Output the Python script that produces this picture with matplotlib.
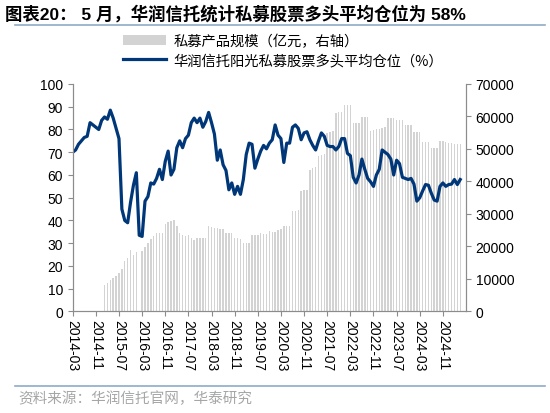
import numpy as np
import matplotlib
matplotlib.use("Agg")
import matplotlib.pyplot as plt
from matplotlib.patches import Patch
from matplotlib.lines import Line2D

plt.rcParams['font.family'] = ['Liberation Sans', 'Noto Sans CJK SC', 'DejaVu Sans']

# ---- data ----
start_year, start_month = 2014, 3
position = [70, 71, 73.5, 75, 76.5, 77, 83, 82, 81, 80,
            84, 85.5, 84.5, 88.5, 85, 80.5, 76, 45, 40, 39,
            48, 55.5, 61, 33.5, 33, 48.5, 50.5, 56.5, 56, 58.5,
            62.5, 58, 66, 70.5, 60, 62.5, 72, 75, 72, 76,
            77.5, 83, 85, 83, 85, 81, 83.5, 87.5, 83, 78,
            66.5, 71, 64.5, 62, 53.5, 56.5, 51.5, 55, 51.5, 58,
            69, 74, 73.5, 63, 67, 70.5, 73, 71.5, 74, 75.5,
            82, 77.5, 76, 65.5, 74, 74, 81, 82, 80.5, 75.5,
            78.5, 79, 75.5, 73, 71, 75, 78.5, 77, 73, 72.5,
            72.5, 71, 72.5, 76, 76, 69.5, 68.5, 59, 56.5, 60,
            67, 62.5, 58.5, 57, 55, 60, 62.5, 71, 70, 69,
            67, 60, 66.5, 65, 59, 58.5, 58, 58.5, 56, 48.5,
            50, 53, 55.8, 55.5, 52, 49, 48.5, 55, 56.5, 55,
            55.8, 56, 58, 55.8, 58]
nan = np.nan
scale = [nan] * 11 + [
    8200, 8800, 9600, 10300, 11000, 11800, 13000, 15500, 16500,
    19000, 17500, 18200, nan, 18700, 19800, 21000, 22300, 23200, 24000,
    24300, 24300, 26800, 27500, 27800, 28000, 26300, 24200, 23600, 23100,
    23500, 22600, 22100, 22600, 22600, 22600, 22700, 26200, 26000, 25800,
    25600, 25400, 25300, 24200, 24100, 24100, 22600, 22600, 22400, 21100,
    21100, 21100, 23500, 23400, 23400, 24000, 23800, 23700, 24700, 24600,
    24600, 25200, 25400, 26200, 26250, 26300, 30800, 31000, 31200, 37000,
    37300, 37500, 43600, 44000, 44500, 47900, 48200, 48500, 54800, 55200,
    55600, 61000, 61300, 61500, 63500, 63500, 63500, 57900, 57900, 57900,
    59800, 59800, 59800, 55600, 55800, 56100, 56300, 56600, 56700, 59400,
    59400, 59400, 58900, 58900, 58900, 57400, 57400, 57400, 55100, 55100,
    55100, 52000, 52000, 52000, 50200, 50200, 50200, 52600, 52400, 52200,
    51900, 51800, 51600, 51500, 51600]

n = len(position)
months = []
for i in range(n):
    y = start_year + (start_month - 1 + i) // 12
    m = (start_month - 1 + i) % 12 + 1
    months.append(f"{y}-{m:02d}")
tick_idx = list(range(0, n, 8))
tick_labels = [months[i] for i in tick_idx]

title = "图表20： 5 月，华润信托统计私募股票多头平均仓位为 58%"
bar_label = "私募产品规模（亿元，右轴）"
line_label = "华润信托阳光私募股票多头平均仓位（%）"
source = "资料来源：华润信托官网，华泰研究"

# ---- figure ----
fig = plt.figure(figsize=(5.5, 4.14), dpi=100)
ax = fig.add_axes([0.1322, 0.2452, 0.7151, 0.5495])
ax2 = ax.twinx()

x = np.arange(n)
ax2.bar(x, scale, width=0.5, color='#D3D3D3', edgecolor='none')
ax.plot(x, position, color='#003778', lw=2.3, solid_joinstyle='round')

ax.set_zorder(ax2.get_zorder() + 1)
ax.patch.set_visible(False)

ax.set_xlim(0, 136)
ax.set_ylim(0, 100)
ax2.set_ylim(0, 70000)
ax.set_yticks(range(0, 101, 10))
ax2.set_yticks(range(0, 70001, 10000))
ax.set_xticks(tick_idx)
ax.set_xticklabels(tick_labels, rotation=-90, fontsize=10)

spine_c = '#8C8C8C'
for a in (ax, ax2):
    a.spines['top'].set_visible(False)
    for s in ('left', 'right', 'bottom'):
        a.spines[s].set_color(spine_c)
        a.spines[s].set_linewidth(0.8)
    a.tick_params(colors=spine_c, labelcolor='#000000', labelsize=10, length=3.5, width=0.8)
ax.tick_params(axis='x', pad=2)

# legend
handles = [Patch(facecolor='#D3D3D3', edgecolor='none'),
           Line2D([0], [0], color='#003778', lw=2.3)]
fig.legend(handles, [bar_label, line_label], loc='center', bbox_to_anchor=(0.515, 0.875),
           frameon=False, handlelength=3.0, handletextpad=0.5,
           labelspacing=0.35, prop={'family': ['Noto Sans CJK SC'], 'size': 10.3})

# title, rules, source
fig.text(0.009, 1 - 14 / 414, title, fontsize=12.5, fontweight='bold', va='center', ha='left',
         family=['Liberation Sans', 'Noto Sans CJK SC'])
fig.add_artist(Line2D([15 / 550, 545 / 550], [1 - 26 / 414, 1 - 26 / 414], color='#8FAAC8', lw=1.2))
fig.add_artist(Line2D([15 / 550, 545 / 550], [1 - 387 / 414, 1 - 387 / 414], color='#8FAAC8', lw=1.2))
fig.text(18 / 550, 1 - 399 / 414, source, fontsize=10.5, color='#A6A6A6', va='center', ha='left',
         family=['Noto Sans CJK SC'])

fig.savefig("out.png", dpi=100)
